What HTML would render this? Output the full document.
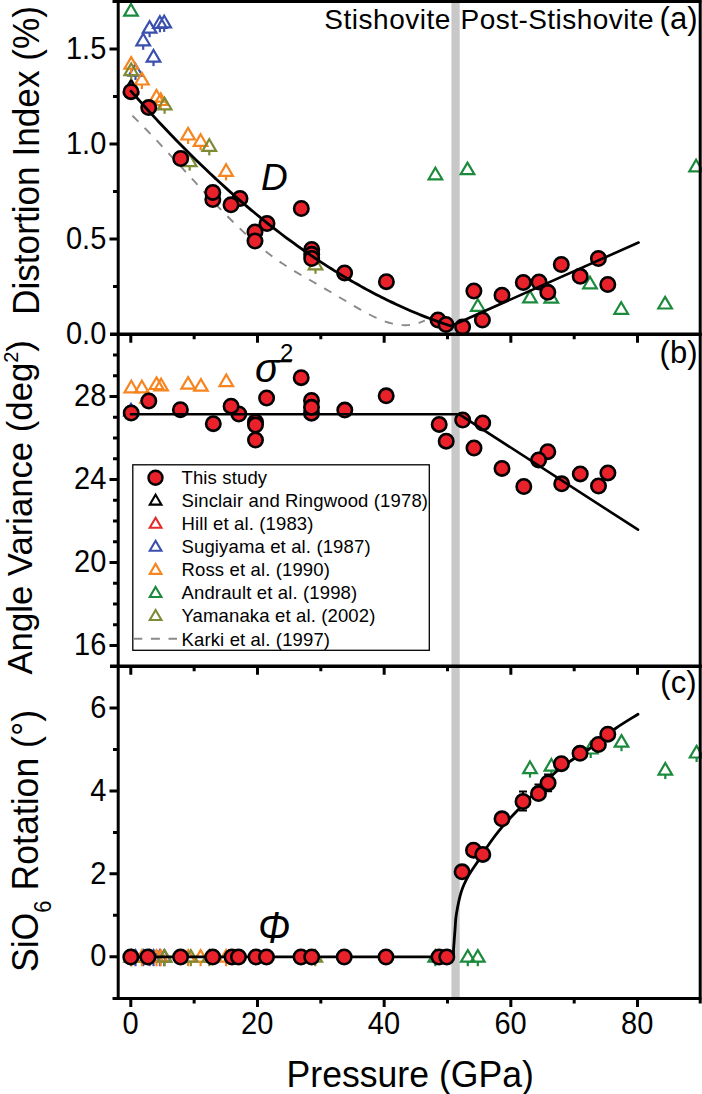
<!DOCTYPE html><html><head><meta charset="utf-8"><style>html,body{margin:0;padding:0;background:#fff;width:702px;height:1094px;overflow:hidden}svg{display:block}text{font-family:"Liberation Sans",sans-serif;fill:#000}</style></head><body>
<svg width="702" height="1094" viewBox="0 0 702 1094">
<rect x="451.4" y="0" width="8.3" height="998" fill="#c8c8c8"/>
<path d="M132.40,115.70 C132.90,116.19 134.40,117.66 135.40,118.64 C136.40,119.63 137.40,120.62 138.40,121.62 C139.40,122.62 140.40,123.63 141.40,124.64 C142.40,125.65 143.40,126.67 144.40,127.69 C145.40,128.71 146.40,129.74 147.40,130.77 C148.40,131.80 149.40,132.84 150.40,133.88 C151.40,134.92 152.40,135.97 153.40,137.02 C154.40,138.07 155.40,139.12 156.40,140.18 C157.40,141.24 158.40,142.30 159.40,143.36 C160.40,144.43 161.40,145.50 162.40,146.57 C163.40,147.64 164.40,148.71 165.40,149.79 C166.40,150.87 167.40,151.95 168.40,153.03 C169.40,154.11 170.40,155.19 171.40,156.28 C172.40,157.36 173.40,158.45 174.40,159.54 C175.40,160.63 176.40,161.72 177.40,162.81 C178.40,163.90 179.40,164.99 180.40,166.08 C181.40,167.17 182.40,168.27 183.40,169.36 C184.40,170.45 185.40,171.54 186.40,172.64 C187.40,173.73 188.40,174.82 189.40,175.91 C190.40,177.00 191.40,178.10 192.40,179.18 C193.40,180.27 194.40,181.36 195.40,182.45 C196.40,183.54 197.40,184.62 198.40,185.71 C199.40,186.79 200.40,187.87 201.40,188.95 C202.40,190.03 203.40,191.11 204.40,192.18 C205.40,193.26 206.40,194.33 207.40,195.40 C208.40,196.47 209.40,197.54 210.40,198.60 C211.40,199.66 212.40,200.72 213.40,201.77 C214.40,202.83 215.40,203.88 216.40,204.93 C217.40,205.97 218.40,207.02 219.40,208.06 C220.40,209.09 221.40,210.13 222.40,211.16 C223.40,212.18 224.40,213.21 225.40,214.22 C226.40,215.24 227.40,216.25 228.40,217.26 C229.40,218.27 230.40,219.27 231.40,220.26 C232.40,221.26 233.40,222.24 234.40,223.23 C235.40,224.21 236.40,225.18 237.40,226.15 C238.40,227.12 239.40,228.08 240.40,229.03 C241.40,229.98 242.40,230.93 243.40,231.87 C244.40,232.80 245.40,233.73 246.40,234.66 C247.40,235.58 248.40,236.49 249.40,237.40 C250.40,238.30 251.40,239.20 252.40,240.08 C253.40,240.97 254.40,241.85 255.40,242.72 C256.40,243.58 257.40,244.44 258.40,245.29 C259.40,246.14 260.40,246.98 261.40,247.81 C262.40,248.64 263.40,249.46 264.40,250.26 C265.40,251.07 266.40,251.87 267.40,252.66 C268.40,253.44 269.40,254.22 270.40,254.98 C271.40,255.74 272.40,256.50 273.40,257.24 C274.40,257.98 275.40,258.71 276.40,259.42 C277.40,260.14 278.40,260.84 279.40,261.53 C280.40,262.23 281.40,262.90 282.40,263.57 C283.40,264.24 284.40,264.89 285.40,265.54 C286.40,266.19 287.40,266.82 288.40,267.45 C289.40,268.08 290.40,268.70 291.40,269.31 C292.40,269.92 293.40,270.52 294.40,271.12 C295.40,271.72 296.40,272.31 297.40,272.89 C298.40,273.48 299.40,274.06 300.40,274.64 C301.40,275.22 302.40,275.79 303.40,276.36 C304.40,276.93 305.40,277.50 306.40,278.07 C307.40,278.63 308.40,279.20 309.40,279.77 C310.40,280.33 311.40,280.90 312.40,281.47 C313.40,282.03 314.40,282.60 315.40,283.17 C316.40,283.75 317.40,284.32 318.40,284.90 C319.40,285.47 320.40,286.05 321.40,286.63 C322.40,287.21 323.40,287.79 324.40,288.38 C325.40,288.96 326.40,289.55 327.40,290.14 C328.40,290.73 329.40,291.31 330.40,291.90 C331.40,292.49 332.40,293.09 333.40,293.68 C334.40,294.27 335.40,294.86 336.40,295.45 C337.40,296.05 338.40,296.64 339.40,297.23 C340.40,297.83 341.40,298.42 342.40,299.01 C343.40,299.61 344.40,300.20 345.40,300.79 C346.40,301.38 347.40,301.98 348.40,302.57 C349.40,303.16 350.40,303.75 351.40,304.33 C352.40,304.92 353.40,305.51 354.40,306.09 C355.40,306.68 356.40,307.26 357.40,307.84 C358.40,308.42 359.40,309.00 360.40,309.57 C361.40,310.14 362.40,310.70 363.40,311.26 C364.40,311.81 365.40,312.36 366.40,312.90 C367.40,313.44 368.40,313.97 369.40,314.49 C370.40,315.01 371.40,315.52 372.40,316.01 C373.40,316.51 374.40,316.99 375.40,317.46 C376.40,317.93 377.40,318.38 378.40,318.81 C379.40,319.25 380.40,319.67 381.40,320.07 C382.40,320.47 383.40,320.85 384.40,321.22 C385.40,321.58 386.40,321.92 387.40,322.24 C388.40,322.56 389.40,322.86 390.40,323.13 C391.40,323.41 392.40,323.66 393.40,323.88 C394.40,324.11 395.40,324.31 396.40,324.48 C397.40,324.65 398.40,324.79 399.40,324.91 C400.40,325.02 401.40,325.11 402.40,325.16 C403.40,325.21 404.40,325.24 405.40,325.23 C406.40,325.22 407.40,325.17 408.40,325.10 C409.40,325.02 410.40,324.91 411.40,324.76 C412.40,324.61 413.40,324.42 414.40,324.20 C415.40,323.97 416.40,323.71 417.40,323.41 C418.40,323.10 419.40,322.76 420.40,322.38 C421.40,321.99 422.67,321.42 423.40,321.09 C424.13,320.77 424.57,320.52 424.80,320.41" fill="none" stroke="#8a8a8a" stroke-width="1.9" stroke-dasharray="8.4 8.9"/>
<path d="M131.00,4.00 L137.80,15.60 L124.20,15.60 Z" fill="none" stroke="#1b8a3c" stroke-width="2.2" stroke-linejoin="miter"/>
<path d="M143.20,33.70 L150.00,45.30 L136.40,45.30 Z" fill="none" stroke="#3a4fae" stroke-width="2.2" stroke-linejoin="miter"/>
<line x1="143.20" y1="45.30" x2="143.20" y2="49.80" stroke="#3a4fae" stroke-width="2.2"/>
<path d="M149.60,21.10 L156.40,32.70 L142.80,32.70 Z" fill="none" stroke="#3a4fae" stroke-width="2.2" stroke-linejoin="miter"/>
<line x1="149.60" y1="32.70" x2="149.60" y2="37.20" stroke="#3a4fae" stroke-width="2.2"/>
<path d="M159.90,16.20 L166.70,27.80 L153.10,27.80 Z" fill="none" stroke="#3a4fae" stroke-width="2.2" stroke-linejoin="miter"/>
<line x1="159.90" y1="27.80" x2="159.90" y2="32.30" stroke="#3a4fae" stroke-width="2.2"/>
<path d="M164.20,15.80 L171.00,27.40 L157.40,27.40 Z" fill="none" stroke="#3a4fae" stroke-width="2.2" stroke-linejoin="miter"/>
<line x1="164.20" y1="27.40" x2="164.20" y2="31.90" stroke="#3a4fae" stroke-width="2.2"/>
<path d="M153.50,50.00 L160.30,61.60 L146.70,61.60 Z" fill="none" stroke="#3a4fae" stroke-width="2.2" stroke-linejoin="miter"/>
<line x1="153.50" y1="61.60" x2="153.50" y2="66.10" stroke="#3a4fae" stroke-width="2.2"/>
<path d="M135.50,64.00 L142.30,75.60 L128.70,75.60 Z" fill="none" stroke="#3a4fae" stroke-width="2.2" stroke-linejoin="miter"/>
<line x1="135.50" y1="75.60" x2="135.50" y2="80.10" stroke="#3a4fae" stroke-width="2.2"/>
<path d="M131.20,82.00 L138.00,93.60 L124.40,93.60 Z" fill="none" stroke="#e52a2a" stroke-width="2.2" stroke-linejoin="miter"/>
<line x1="131.20" y1="93.60" x2="131.20" y2="98.10" stroke="#e52a2a" stroke-width="2.2"/>
<path d="M131.20,81.00 L138.00,92.60 L124.40,92.60 Z" fill="none" stroke="#3a4fae" stroke-width="2.2" stroke-linejoin="miter"/>
<line x1="131.20" y1="92.60" x2="131.20" y2="97.10" stroke="#3a4fae" stroke-width="2.2"/>
<path d="M131.20,79.70 L138.00,91.30 L124.40,91.30 Z" fill="none" stroke="#000" stroke-width="2.2" stroke-linejoin="miter"/>
<line x1="131.20" y1="91.30" x2="131.20" y2="95.80" stroke="#000" stroke-width="2.2"/>
<path d="M131.20,57.10 L138.00,68.70 L124.40,68.70 Z" fill="none" stroke="#f7851f" stroke-width="2.2" stroke-linejoin="miter"/>
<line x1="131.20" y1="68.70" x2="131.20" y2="73.20" stroke="#f7851f" stroke-width="2.2"/>
<path d="M141.90,72.90 L148.70,84.50 L135.10,84.50 Z" fill="none" stroke="#f7851f" stroke-width="2.2" stroke-linejoin="miter"/>
<line x1="141.90" y1="84.50" x2="141.90" y2="89.00" stroke="#f7851f" stroke-width="2.2"/>
<path d="M156.50,90.00 L163.30,101.60 L149.70,101.60 Z" fill="none" stroke="#f7851f" stroke-width="2.2" stroke-linejoin="miter"/>
<line x1="156.50" y1="101.60" x2="156.50" y2="106.10" stroke="#f7851f" stroke-width="2.2"/>
<path d="M160.70,93.40 L167.50,105.00 L153.90,105.00 Z" fill="none" stroke="#f7851f" stroke-width="2.2" stroke-linejoin="miter"/>
<line x1="160.70" y1="105.00" x2="160.70" y2="109.50" stroke="#f7851f" stroke-width="2.2"/>
<path d="M188.10,127.90 L194.90,139.50 L181.30,139.50 Z" fill="none" stroke="#f7851f" stroke-width="2.2" stroke-linejoin="miter"/>
<line x1="188.10" y1="139.50" x2="188.10" y2="144.00" stroke="#f7851f" stroke-width="2.2"/>
<path d="M200.60,134.30 L207.40,145.90 L193.80,145.90 Z" fill="none" stroke="#f7851f" stroke-width="2.2" stroke-linejoin="miter"/>
<line x1="200.60" y1="145.90" x2="200.60" y2="150.40" stroke="#f7851f" stroke-width="2.2"/>
<path d="M226.10,164.30 L232.90,175.90 L219.30,175.90 Z" fill="none" stroke="#f7851f" stroke-width="2.2" stroke-linejoin="miter"/>
<line x1="226.10" y1="175.90" x2="226.10" y2="180.40" stroke="#f7851f" stroke-width="2.2"/>
<path d="M131.20,63.50 L138.00,75.10 L124.40,75.10 Z" fill="none" stroke="#7f8a35" stroke-width="2.2" stroke-linejoin="miter"/>
<line x1="131.20" y1="75.10" x2="131.20" y2="79.60" stroke="#7f8a35" stroke-width="2.2"/>
<path d="M164.60,97.70 L171.40,109.30 L157.80,109.30 Z" fill="none" stroke="#7f8a35" stroke-width="2.2" stroke-linejoin="miter"/>
<line x1="164.60" y1="109.30" x2="164.60" y2="113.80" stroke="#7f8a35" stroke-width="2.2"/>
<path d="M209.30,139.30 L216.10,150.90 L202.50,150.90 Z" fill="none" stroke="#7f8a35" stroke-width="2.2" stroke-linejoin="miter"/>
<line x1="209.30" y1="150.90" x2="209.30" y2="155.40" stroke="#7f8a35" stroke-width="2.2"/>
<path d="M189.70,154.50 L196.50,166.10 L182.90,166.10 Z" fill="none" stroke="#7f8a35" stroke-width="2.2" stroke-linejoin="miter"/>
<line x1="189.70" y1="166.10" x2="189.70" y2="170.60" stroke="#7f8a35" stroke-width="2.2"/>
<path d="M315.50,257.70 L322.30,269.30 L308.70,269.30 Z" fill="none" stroke="#7f8a35" stroke-width="2.2" stroke-linejoin="miter"/>
<line x1="315.50" y1="269.30" x2="315.50" y2="273.80" stroke="#7f8a35" stroke-width="2.2"/>
<path d="M435.40,167.70 L442.20,179.30 L428.60,179.30 Z" fill="none" stroke="#1b8a3c" stroke-width="2.2" stroke-linejoin="miter"/>
<path d="M467.50,162.60 L474.30,174.20 L460.70,174.20 Z" fill="none" stroke="#1b8a3c" stroke-width="2.2" stroke-linejoin="miter"/>
<path d="M477.80,299.20 L484.60,310.80 L471.00,310.80 Z" fill="none" stroke="#1b8a3c" stroke-width="2.2" stroke-linejoin="miter"/>
<path d="M530.00,290.80 L536.80,302.40 L523.20,302.40 Z" fill="none" stroke="#1b8a3c" stroke-width="2.2" stroke-linejoin="miter"/>
<path d="M551.30,291.00 L558.10,302.60 L544.50,302.60 Z" fill="none" stroke="#1b8a3c" stroke-width="2.2" stroke-linejoin="miter"/>
<path d="M590.00,276.80 L596.80,288.40 L583.20,288.40 Z" fill="none" stroke="#1b8a3c" stroke-width="2.2" stroke-linejoin="miter"/>
<path d="M621.20,302.20 L628.00,313.80 L614.40,313.80 Z" fill="none" stroke="#1b8a3c" stroke-width="2.2" stroke-linejoin="miter"/>
<path d="M665.10,296.90 L671.90,308.50 L658.30,308.50 Z" fill="none" stroke="#1b8a3c" stroke-width="2.2" stroke-linejoin="miter"/>
<path d="M696.10,159.80 L702.90,171.40 L689.30,171.40 Z" fill="none" stroke="#1b8a3c" stroke-width="2.2" stroke-linejoin="miter"/>
<circle cx="131.0" cy="91.7" r="7.2" fill="#e8212a" stroke="#000" stroke-width="2.6"/>
<circle cx="148.7" cy="107.6" r="7.2" fill="#e8212a" stroke="#000" stroke-width="2.6"/>
<circle cx="180.7" cy="158.5" r="7.2" fill="#e8212a" stroke="#000" stroke-width="2.6"/>
<circle cx="212.8" cy="199.5" r="7.2" fill="#e8212a" stroke="#000" stroke-width="2.6"/>
<circle cx="212.8" cy="192.4" r="7.2" fill="#e8212a" stroke="#000" stroke-width="2.6"/>
<circle cx="240.0" cy="198.5" r="7.2" fill="#e8212a" stroke="#000" stroke-width="2.6"/>
<circle cx="231.0" cy="204.8" r="7.2" fill="#e8212a" stroke="#000" stroke-width="2.6"/>
<circle cx="267.0" cy="223.5" r="7.2" fill="#e8212a" stroke="#000" stroke-width="2.6"/>
<circle cx="255.0" cy="232.0" r="7.2" fill="#e8212a" stroke="#000" stroke-width="2.6"/>
<circle cx="255.0" cy="241.0" r="7.2" fill="#e8212a" stroke="#000" stroke-width="2.6"/>
<circle cx="301.3" cy="208.5" r="7.2" fill="#e8212a" stroke="#000" stroke-width="2.6"/>
<circle cx="311.7" cy="249.5" r="7.2" fill="#e8212a" stroke="#000" stroke-width="2.6"/>
<circle cx="311.7" cy="254.3" r="7.2" fill="#e8212a" stroke="#000" stroke-width="2.6"/>
<circle cx="311.7" cy="258.5" r="7.2" fill="#e8212a" stroke="#000" stroke-width="2.6"/>
<circle cx="344.6" cy="272.9" r="7.2" fill="#e8212a" stroke="#000" stroke-width="2.6"/>
<circle cx="386.4" cy="281.7" r="7.2" fill="#e8212a" stroke="#000" stroke-width="2.6"/>
<circle cx="438.0" cy="320.0" r="7.2" fill="#e8212a" stroke="#000" stroke-width="2.6"/>
<circle cx="446.0" cy="324.5" r="7.2" fill="#e8212a" stroke="#000" stroke-width="2.6"/>
<circle cx="462.6" cy="327.0" r="7.2" fill="#e8212a" stroke="#000" stroke-width="2.6"/>
<circle cx="473.9" cy="291.0" r="7.2" fill="#e8212a" stroke="#000" stroke-width="2.6"/>
<circle cx="482.4" cy="320.0" r="7.2" fill="#e8212a" stroke="#000" stroke-width="2.6"/>
<circle cx="502.0" cy="295.2" r="7.2" fill="#e8212a" stroke="#000" stroke-width="2.6"/>
<circle cx="523.3" cy="282.5" r="7.2" fill="#e8212a" stroke="#000" stroke-width="2.6"/>
<circle cx="539.0" cy="282.0" r="7.2" fill="#e8212a" stroke="#000" stroke-width="2.6"/>
<circle cx="547.8" cy="292.3" r="7.2" fill="#e8212a" stroke="#000" stroke-width="2.6"/>
<circle cx="561.3" cy="264.5" r="7.2" fill="#e8212a" stroke="#000" stroke-width="2.6"/>
<circle cx="580.2" cy="276.3" r="7.2" fill="#e8212a" stroke="#000" stroke-width="2.6"/>
<circle cx="598.4" cy="258.5" r="7.2" fill="#e8212a" stroke="#000" stroke-width="2.6"/>
<circle cx="607.8" cy="284.5" r="7.2" fill="#e8212a" stroke="#000" stroke-width="2.6"/>
<path d="M131.00,91.12 C131.83,92.07 134.33,94.92 136.00,96.80 C137.67,98.68 139.33,100.55 141.00,102.41 C142.67,104.28 144.33,106.13 146.00,107.97 C147.67,109.81 149.33,111.64 151.00,113.45 C152.67,115.27 154.33,117.08 156.00,118.88 C157.67,120.68 159.33,122.46 161.00,124.24 C162.67,126.01 164.33,127.78 166.00,129.53 C167.67,131.29 169.33,133.03 171.00,134.77 C172.67,136.50 174.33,138.22 176.00,139.94 C177.67,141.65 179.33,143.35 181.00,145.04 C182.67,146.73 184.33,148.41 186.00,150.08 C187.67,151.75 189.33,153.41 191.00,155.06 C192.67,156.71 194.33,158.35 196.00,159.97 C197.67,161.60 199.33,163.22 201.00,164.82 C202.67,166.43 204.33,168.03 206.00,169.61 C207.67,171.20 209.33,172.77 211.00,174.33 C212.67,175.90 214.33,177.45 216.00,178.99 C217.67,180.53 219.33,182.07 221.00,183.59 C222.67,185.11 224.33,186.62 226.00,188.12 C227.67,189.62 229.33,191.11 231.00,192.59 C232.67,194.06 234.33,195.53 236.00,196.99 C237.67,198.45 239.33,199.89 241.00,201.33 C242.67,202.77 244.33,204.19 246.00,205.61 C247.67,207.02 249.33,208.42 251.00,209.82 C252.67,211.21 254.33,212.59 256.00,213.97 C257.67,215.34 259.33,216.70 261.00,218.05 C262.67,219.40 264.33,220.74 266.00,222.07 C267.67,223.40 269.33,224.72 271.00,226.03 C272.67,227.34 274.33,228.64 276.00,229.92 C277.67,231.21 279.33,232.49 281.00,233.75 C282.67,235.02 284.33,236.28 286.00,237.52 C287.67,238.76 289.33,240.00 291.00,241.22 C292.67,242.45 294.33,243.66 296.00,244.86 C297.67,246.06 299.33,247.25 301.00,248.44 C302.67,249.62 304.33,250.79 306.00,251.95 C307.67,253.11 309.33,254.26 311.00,255.39 C312.67,256.53 314.33,257.66 316.00,258.78 C317.67,259.90 319.33,261.00 321.00,262.10 C322.67,263.19 324.33,264.28 326.00,265.35 C327.67,266.43 329.33,267.49 331.00,268.55 C332.67,269.60 334.33,270.64 336.00,271.67 C337.67,272.71 339.33,273.73 341.00,274.74 C342.67,275.75 344.33,276.75 346.00,277.74 C347.67,278.73 349.33,279.71 351.00,280.68 C352.67,281.65 354.33,282.60 356.00,283.55 C357.67,284.50 359.33,285.44 361.00,286.36 C362.67,287.29 364.33,288.20 366.00,289.11 C367.67,290.01 369.33,290.91 371.00,291.79 C372.67,292.67 374.33,293.55 376.00,294.41 C377.67,295.27 379.33,296.12 381.00,296.96 C382.67,297.80 384.33,298.63 386.00,299.45 C387.67,300.27 389.33,301.08 391.00,301.88 C392.67,302.68 394.33,303.47 396.00,304.24 C397.67,305.02 399.33,305.79 401.00,306.54 C402.67,307.30 404.33,308.04 406.00,308.78 C407.67,309.51 409.33,310.24 411.00,310.95 C412.67,311.66 414.33,312.37 416.00,313.06 C417.67,313.75 419.33,314.43 421.00,315.10 C422.67,315.78 424.33,316.44 426.00,317.09 C427.67,317.73 429.33,318.37 431.00,319.00 C432.67,319.63 434.33,320.25 436.00,320.86 C437.67,321.46 439.33,322.06 441.00,322.65 C442.67,323.23 444.33,323.81 446.00,324.37 C447.67,324.94 450.17,325.76 451.00,326.03" fill="none" stroke="#000" stroke-width="2.8" stroke-linecap="round" stroke-linejoin="round"/>
<path d="M451.00,326.03 L638.6,242.5" fill="none" stroke="#000" stroke-width="2.6" stroke-linecap="round"/>
<path d="M131.30,380.80 L138.10,392.40 L124.50,392.40 Z" fill="none" stroke="#f7851f" stroke-width="2.2" stroke-linejoin="miter"/>
<path d="M141.90,380.80 L148.70,392.40 L135.10,392.40 Z" fill="none" stroke="#f7851f" stroke-width="2.2" stroke-linejoin="miter"/>
<path d="M156.50,377.40 L163.30,389.00 L149.70,389.00 Z" fill="none" stroke="#f7851f" stroke-width="2.2" stroke-linejoin="miter"/>
<path d="M161.10,378.80 L167.90,390.40 L154.30,390.40 Z" fill="none" stroke="#f7851f" stroke-width="2.2" stroke-linejoin="miter"/>
<path d="M188.10,377.10 L194.90,388.70 L181.30,388.70 Z" fill="none" stroke="#f7851f" stroke-width="2.2" stroke-linejoin="miter"/>
<path d="M200.90,379.10 L207.70,390.70 L194.10,390.70 Z" fill="none" stroke="#f7851f" stroke-width="2.2" stroke-linejoin="miter"/>
<path d="M226.30,374.50 L233.10,386.10 L219.50,386.10 Z" fill="none" stroke="#f7851f" stroke-width="2.2" stroke-linejoin="miter"/>
<path d="M147.00,391.00 L153.80,402.60 L140.20,402.60 Z" fill="none" stroke="#f7851f" stroke-width="2.2" stroke-linejoin="miter"/>
<path d="M131.00,403.90 L137.80,415.50 L124.20,415.50 Z" fill="none" stroke="#3a4fae" stroke-width="2.2" stroke-linejoin="miter"/>
<circle cx="131.2" cy="413.0" r="7.2" fill="#e8212a" stroke="#000" stroke-width="2.6"/>
<circle cx="148.8" cy="401.0" r="7.2" fill="#e8212a" stroke="#000" stroke-width="2.6"/>
<circle cx="180.4" cy="409.7" r="7.2" fill="#e8212a" stroke="#000" stroke-width="2.6"/>
<circle cx="213.3" cy="423.7" r="7.2" fill="#e8212a" stroke="#000" stroke-width="2.6"/>
<circle cx="238.8" cy="414.0" r="7.2" fill="#e8212a" stroke="#000" stroke-width="2.6"/>
<circle cx="231.1" cy="406.2" r="7.2" fill="#e8212a" stroke="#000" stroke-width="2.6"/>
<circle cx="255.5" cy="422.0" r="7.2" fill="#e8212a" stroke="#000" stroke-width="2.6"/>
<circle cx="255.5" cy="440.0" r="7.2" fill="#e8212a" stroke="#000" stroke-width="2.6"/>
<circle cx="255.5" cy="425.0" r="7.2" fill="#e8212a" stroke="#000" stroke-width="2.6"/>
<circle cx="266.6" cy="398.0" r="7.2" fill="#e8212a" stroke="#000" stroke-width="2.6"/>
<circle cx="301.2" cy="377.7" r="7.2" fill="#e8212a" stroke="#000" stroke-width="2.6"/>
<circle cx="311.5" cy="400.4" r="7.2" fill="#e8212a" stroke="#000" stroke-width="2.6"/>
<circle cx="311.5" cy="413.2" r="7.2" fill="#e8212a" stroke="#000" stroke-width="2.6"/>
<circle cx="311.5" cy="407.3" r="7.2" fill="#e8212a" stroke="#000" stroke-width="2.6"/>
<circle cx="344.8" cy="410.1" r="7.2" fill="#e8212a" stroke="#000" stroke-width="2.6"/>
<circle cx="386.2" cy="395.8" r="7.2" fill="#e8212a" stroke="#000" stroke-width="2.6"/>
<circle cx="439.2" cy="424.4" r="7.2" fill="#e8212a" stroke="#000" stroke-width="2.6"/>
<circle cx="446.2" cy="441.2" r="7.2" fill="#e8212a" stroke="#000" stroke-width="2.6"/>
<circle cx="462.7" cy="420.0" r="7.2" fill="#e8212a" stroke="#000" stroke-width="2.6"/>
<circle cx="474.0" cy="448.0" r="7.2" fill="#e8212a" stroke="#000" stroke-width="2.6"/>
<circle cx="482.7" cy="422.9" r="7.2" fill="#e8212a" stroke="#000" stroke-width="2.6"/>
<circle cx="502.0" cy="468.4" r="7.2" fill="#e8212a" stroke="#000" stroke-width="2.6"/>
<circle cx="523.8" cy="486.5" r="7.2" fill="#e8212a" stroke="#000" stroke-width="2.6"/>
<circle cx="547.8" cy="451.7" r="7.2" fill="#e8212a" stroke="#000" stroke-width="2.6"/>
<circle cx="538.6" cy="460.0" r="7.2" fill="#e8212a" stroke="#000" stroke-width="2.6"/>
<circle cx="561.7" cy="483.8" r="7.2" fill="#e8212a" stroke="#000" stroke-width="2.6"/>
<circle cx="580.3" cy="473.9" r="7.2" fill="#e8212a" stroke="#000" stroke-width="2.6"/>
<circle cx="607.9" cy="472.9" r="7.2" fill="#e8212a" stroke="#000" stroke-width="2.6"/>
<circle cx="598.5" cy="486.0" r="7.2" fill="#e8212a" stroke="#000" stroke-width="2.6"/>
<path d="M131,414.2 L459,414.2 L638,529.7" fill="none" stroke="#000" stroke-width="2.6" stroke-linecap="round" stroke-linejoin="round"/>
<rect x="132.8" y="464.8" width="296.5" height="185.5" fill="#fff" stroke="#000" stroke-width="1.3"/>
<circle cx="155.5" cy="477.7" r="7.0" fill="#e8212a" stroke="#000" stroke-width="2.4"/>
<text x="181.5" y="484.0" font-size="18.5" text-anchor="start" letter-spacing="0.14">This study</text>
<path d="M155.60,494.67 L161.45,504.65 L149.75,504.65 Z" fill="none" stroke="#000" stroke-width="2.1" stroke-linejoin="miter"/>
<text x="181.5" y="507.1" font-size="18.5" text-anchor="start" letter-spacing="0.14">Sinclair and Ringwood (1978)</text>
<path d="M155.60,517.74 L161.45,527.72 L149.75,527.72 Z" fill="none" stroke="#e52a2a" stroke-width="2.1" stroke-linejoin="miter"/>
<text x="181.5" y="530.1" font-size="18.5" text-anchor="start" letter-spacing="0.14">Hill et al. (1983)</text>
<path d="M155.60,540.81 L161.45,550.79 L149.75,550.79 Z" fill="none" stroke="#3a4fae" stroke-width="2.1" stroke-linejoin="miter"/>
<text x="181.5" y="553.2" font-size="18.5" text-anchor="start" letter-spacing="0.14">Sugiyama et al. (1987)</text>
<path d="M155.60,563.88 L161.45,573.86 L149.75,573.86 Z" fill="none" stroke="#f7851f" stroke-width="2.1" stroke-linejoin="miter"/>
<text x="181.5" y="576.3" font-size="18.5" text-anchor="start" letter-spacing="0.14">Ross et al. (1990)</text>
<path d="M155.60,586.95 L161.45,596.93 L149.75,596.93 Z" fill="none" stroke="#1b8a3c" stroke-width="2.1" stroke-linejoin="miter"/>
<text x="181.5" y="599.3" font-size="18.5" text-anchor="start" letter-spacing="0.14">Andrault et al. (1998)</text>
<path d="M155.60,610.02 L161.45,620.00 L149.75,620.00 Z" fill="none" stroke="#7f8a35" stroke-width="2.1" stroke-linejoin="miter"/>
<text x="181.5" y="622.4" font-size="18.5" text-anchor="start" letter-spacing="0.14">Yamanaka et al. (2002)</text>
<line x1="133.3" y1="638.7" x2="177" y2="638.7" stroke="#8a8a8a" stroke-width="2" stroke-dasharray="9 8.6"/>
<text x="181.5" y="645.5" font-size="18.5" text-anchor="start" letter-spacing="0.14">Karki et al. (1997)</text>
<path d="M135.50,950.10 L142.30,961.70 L128.70,961.70 Z" fill="none" stroke="#3a4fae" stroke-width="2.2" stroke-linejoin="miter"/>
<line x1="135.50" y1="961.70" x2="135.50" y2="966.20" stroke="#3a4fae" stroke-width="2.2"/>
<path d="M143.20,950.10 L150.00,961.70 L136.40,961.70 Z" fill="none" stroke="#3a4fae" stroke-width="2.2" stroke-linejoin="miter"/>
<line x1="143.20" y1="961.70" x2="143.20" y2="966.20" stroke="#3a4fae" stroke-width="2.2"/>
<path d="M149.60,950.10 L156.40,961.70 L142.80,961.70 Z" fill="none" stroke="#3a4fae" stroke-width="2.2" stroke-linejoin="miter"/>
<line x1="149.60" y1="961.70" x2="149.60" y2="966.20" stroke="#3a4fae" stroke-width="2.2"/>
<path d="M153.50,950.10 L160.30,961.70 L146.70,961.70 Z" fill="none" stroke="#3a4fae" stroke-width="2.2" stroke-linejoin="miter"/>
<line x1="153.50" y1="961.70" x2="153.50" y2="966.20" stroke="#3a4fae" stroke-width="2.2"/>
<path d="M159.90,950.10 L166.70,961.70 L153.10,961.70 Z" fill="none" stroke="#3a4fae" stroke-width="2.2" stroke-linejoin="miter"/>
<line x1="159.90" y1="961.70" x2="159.90" y2="966.20" stroke="#3a4fae" stroke-width="2.2"/>
<path d="M164.20,950.10 L171.00,961.70 L157.40,961.70 Z" fill="none" stroke="#3a4fae" stroke-width="2.2" stroke-linejoin="miter"/>
<line x1="164.20" y1="961.70" x2="164.20" y2="966.20" stroke="#3a4fae" stroke-width="2.2"/>
<path d="M131.20,950.10 L138.00,961.70 L124.40,961.70 Z" fill="none" stroke="#f7851f" stroke-width="2.2" stroke-linejoin="miter"/>
<line x1="131.20" y1="961.70" x2="131.20" y2="966.20" stroke="#f7851f" stroke-width="2.2"/>
<path d="M141.90,950.10 L148.70,961.70 L135.10,961.70 Z" fill="none" stroke="#f7851f" stroke-width="2.2" stroke-linejoin="miter"/>
<line x1="141.90" y1="961.70" x2="141.90" y2="966.20" stroke="#f7851f" stroke-width="2.2"/>
<path d="M156.50,950.10 L163.30,961.70 L149.70,961.70 Z" fill="none" stroke="#f7851f" stroke-width="2.2" stroke-linejoin="miter"/>
<line x1="156.50" y1="961.70" x2="156.50" y2="966.20" stroke="#f7851f" stroke-width="2.2"/>
<path d="M160.70,950.10 L167.50,961.70 L153.90,961.70 Z" fill="none" stroke="#f7851f" stroke-width="2.2" stroke-linejoin="miter"/>
<line x1="160.70" y1="961.70" x2="160.70" y2="966.20" stroke="#f7851f" stroke-width="2.2"/>
<path d="M188.10,950.10 L194.90,961.70 L181.30,961.70 Z" fill="none" stroke="#f7851f" stroke-width="2.2" stroke-linejoin="miter"/>
<line x1="188.10" y1="961.70" x2="188.10" y2="966.20" stroke="#f7851f" stroke-width="2.2"/>
<path d="M200.60,950.10 L207.40,961.70 L193.80,961.70 Z" fill="none" stroke="#f7851f" stroke-width="2.2" stroke-linejoin="miter"/>
<line x1="200.60" y1="961.70" x2="200.60" y2="966.20" stroke="#f7851f" stroke-width="2.2"/>
<path d="M226.10,950.10 L232.90,961.70 L219.30,961.70 Z" fill="none" stroke="#f7851f" stroke-width="2.2" stroke-linejoin="miter"/>
<line x1="226.10" y1="961.70" x2="226.10" y2="966.20" stroke="#f7851f" stroke-width="2.2"/>
<path d="M131.20,950.10 L138.00,961.70 L124.40,961.70 Z" fill="none" stroke="#7f8a35" stroke-width="2.2" stroke-linejoin="miter"/>
<line x1="131.20" y1="961.70" x2="131.20" y2="966.20" stroke="#7f8a35" stroke-width="2.2"/>
<path d="M164.60,950.10 L171.40,961.70 L157.80,961.70 Z" fill="none" stroke="#7f8a35" stroke-width="2.2" stroke-linejoin="miter"/>
<line x1="164.60" y1="961.70" x2="164.60" y2="966.20" stroke="#7f8a35" stroke-width="2.2"/>
<path d="M190.80,950.10 L197.60,961.70 L184.00,961.70 Z" fill="none" stroke="#7f8a35" stroke-width="2.2" stroke-linejoin="miter"/>
<line x1="190.80" y1="961.70" x2="190.80" y2="966.20" stroke="#7f8a35" stroke-width="2.2"/>
<path d="M209.30,950.10 L216.10,961.70 L202.50,961.70 Z" fill="none" stroke="#7f8a35" stroke-width="2.2" stroke-linejoin="miter"/>
<line x1="209.30" y1="961.70" x2="209.30" y2="966.20" stroke="#7f8a35" stroke-width="2.2"/>
<path d="M315.30,950.10 L322.10,961.70 L308.50,961.70 Z" fill="none" stroke="#7f8a35" stroke-width="2.2" stroke-linejoin="miter"/>
<line x1="315.30" y1="961.70" x2="315.30" y2="966.20" stroke="#7f8a35" stroke-width="2.2"/>
<path d="M435.30,950.10 L442.10,961.70 L428.50,961.70 Z" fill="none" stroke="#1b8a3c" stroke-width="2.2" stroke-linejoin="miter"/>
<line x1="435.30" y1="961.70" x2="435.30" y2="966.20" stroke="#1b8a3c" stroke-width="2.2"/>
<path d="M467.80,950.10 L474.60,961.70 L461.00,961.70 Z" fill="none" stroke="#1b8a3c" stroke-width="2.2" stroke-linejoin="miter"/>
<line x1="467.80" y1="961.70" x2="467.80" y2="966.20" stroke="#1b8a3c" stroke-width="2.2"/>
<path d="M477.80,950.10 L484.60,961.70 L471.00,961.70 Z" fill="none" stroke="#1b8a3c" stroke-width="2.2" stroke-linejoin="miter"/>
<line x1="477.80" y1="961.70" x2="477.80" y2="966.20" stroke="#1b8a3c" stroke-width="2.2"/>
<path d="M530.00,761.50 L536.80,773.10 L523.20,773.10 Z" fill="none" stroke="#1b8a3c" stroke-width="2.2" stroke-linejoin="miter"/>
<line x1="530.00" y1="773.10" x2="530.00" y2="777.60" stroke="#1b8a3c" stroke-width="2.2"/>
<path d="M551.40,759.00 L558.20,770.60 L544.60,770.60 Z" fill="none" stroke="#1b8a3c" stroke-width="2.2" stroke-linejoin="miter"/>
<line x1="551.40" y1="770.60" x2="551.40" y2="775.10" stroke="#1b8a3c" stroke-width="2.2"/>
<path d="M590.70,741.90 L597.50,753.50 L583.90,753.50 Z" fill="none" stroke="#1b8a3c" stroke-width="2.2" stroke-linejoin="miter"/>
<line x1="590.70" y1="753.50" x2="590.70" y2="758.00" stroke="#1b8a3c" stroke-width="2.2"/>
<path d="M621.50,735.10 L628.30,746.70 L614.70,746.70 Z" fill="none" stroke="#1b8a3c" stroke-width="2.2" stroke-linejoin="miter"/>
<line x1="621.50" y1="746.70" x2="621.50" y2="751.20" stroke="#1b8a3c" stroke-width="2.2"/>
<path d="M665.30,763.00 L672.10,774.60 L658.50,774.60 Z" fill="none" stroke="#1b8a3c" stroke-width="2.2" stroke-linejoin="miter"/>
<line x1="665.30" y1="774.60" x2="665.30" y2="779.10" stroke="#1b8a3c" stroke-width="2.2"/>
<path d="M696.60,745.90 L703.40,757.50 L689.80,757.50 Z" fill="none" stroke="#1b8a3c" stroke-width="2.2" stroke-linejoin="miter"/>
<line x1="696.60" y1="757.50" x2="696.60" y2="762.00" stroke="#1b8a3c" stroke-width="2.2"/>
<path d="M523.0,791.4 V810.6 M519.0,791.4 H527.0 M519.0,810.6 H527.0" stroke="#000" stroke-width="2" fill="none"/>
<path d="M538.5,784.4 V799.0 M534.5,784.4 H542.5 M534.5,799.0 H542.5" stroke="#000" stroke-width="2" fill="none"/>
<path d="M548.1,774.4 V791.3 M544.1,774.4 H552.1 M544.1,791.3 H552.1" stroke="#000" stroke-width="2" fill="none"/>
<path d="M131,956.8 L453.5,956.8 L453.50,950.00 C453.75,946.67 454.52,936.00 455.00,930.00 C455.48,924.00 455.33,920.43 456.40,914.00 C457.47,907.57 459.38,897.78 461.40,891.40 C463.42,885.02 465.77,880.70 468.50,875.70 C471.23,870.70 474.57,866.40 477.80,861.40 C481.03,856.40 483.97,851.28 487.90,845.70 C491.83,840.12 496.28,833.97 501.40,827.90 C506.52,821.83 509.85,818.32 518.60,809.30 C527.35,800.28 545.45,781.72 553.90,773.80 C562.35,765.88 563.32,766.02 569.30,761.80 C575.28,757.58 582.10,754.05 589.80,748.50 C597.50,742.95 607.47,734.20 615.50,728.50 C623.53,722.80 634.25,716.67 638.00,714.30" fill="none" stroke="#000" stroke-width="2.8" stroke-linecap="round" stroke-linejoin="round"/>
<circle cx="130.8" cy="957.0" r="7.2" fill="#e8212a" stroke="#000" stroke-width="2.6"/>
<circle cx="147.9" cy="957.0" r="7.2" fill="#e8212a" stroke="#000" stroke-width="2.6"/>
<circle cx="180.6" cy="957.0" r="7.2" fill="#e8212a" stroke="#000" stroke-width="2.6"/>
<circle cx="212.7" cy="957.0" r="7.2" fill="#e8212a" stroke="#000" stroke-width="2.6"/>
<circle cx="232.0" cy="957.0" r="7.2" fill="#e8212a" stroke="#000" stroke-width="2.6"/>
<circle cx="238.5" cy="957.0" r="7.2" fill="#e8212a" stroke="#000" stroke-width="2.6"/>
<circle cx="256.0" cy="957.0" r="7.2" fill="#e8212a" stroke="#000" stroke-width="2.6"/>
<circle cx="266.5" cy="957.0" r="7.2" fill="#e8212a" stroke="#000" stroke-width="2.6"/>
<circle cx="301.0" cy="957.0" r="7.2" fill="#e8212a" stroke="#000" stroke-width="2.6"/>
<circle cx="311.7" cy="957.0" r="7.2" fill="#e8212a" stroke="#000" stroke-width="2.6"/>
<circle cx="344.2" cy="957.0" r="7.2" fill="#e8212a" stroke="#000" stroke-width="2.6"/>
<circle cx="386.0" cy="957.0" r="7.2" fill="#e8212a" stroke="#000" stroke-width="2.6"/>
<circle cx="439.0" cy="957.0" r="7.2" fill="#e8212a" stroke="#000" stroke-width="2.6"/>
<circle cx="446.8" cy="957.0" r="7.2" fill="#e8212a" stroke="#000" stroke-width="2.6"/>
<circle cx="462.1" cy="871.8" r="7.2" fill="#e8212a" stroke="#000" stroke-width="2.6"/>
<circle cx="473.5" cy="850.2" r="7.2" fill="#e8212a" stroke="#000" stroke-width="2.6"/>
<circle cx="482.8" cy="854.4" r="7.2" fill="#e8212a" stroke="#000" stroke-width="2.6"/>
<circle cx="502.0" cy="818.8" r="7.2" fill="#e8212a" stroke="#000" stroke-width="2.6"/>
<circle cx="523.0" cy="801.5" r="7.2" fill="#e8212a" stroke="#000" stroke-width="2.6"/>
<circle cx="538.5" cy="793.6" r="7.2" fill="#e8212a" stroke="#000" stroke-width="2.6"/>
<circle cx="548.1" cy="782.9" r="7.2" fill="#e8212a" stroke="#000" stroke-width="2.6"/>
<circle cx="561.4" cy="763.7" r="7.2" fill="#e8212a" stroke="#000" stroke-width="2.6"/>
<circle cx="580.0" cy="753.3" r="7.2" fill="#e8212a" stroke="#000" stroke-width="2.6"/>
<circle cx="598.4" cy="744.5" r="7.2" fill="#e8212a" stroke="#000" stroke-width="2.6"/>
<circle cx="607.8" cy="734.2" r="7.2" fill="#e8212a" stroke="#000" stroke-width="2.6"/>
<path d="M112.5,1.6 H701.8 M118.2,0 V998.5 M700.2,0 V1003.5 M112.5,998.5 H701.8" stroke="#000" stroke-width="3.0" fill="none"/>
<path d="M110,334.2 H701.8 M110,666.2 H701.8" stroke="#000" stroke-width="3.4" fill="none"/>
<path d="M130.80,334.20 V342.70 M194.14,334.20 V339.20 M257.48,334.20 V342.70 M320.82,334.20 V339.20 M384.16,334.20 V342.70 M447.50,334.20 V339.20 M510.84,334.20 V342.70 M574.18,334.20 V339.20 M637.52,334.20 V342.70 M130.80,666.20 V674.70 M194.14,666.20 V671.20 M257.48,666.20 V674.70 M320.82,666.20 V671.20 M384.16,666.20 V674.70 M447.50,666.20 V671.20 M510.84,666.20 V674.70 M574.18,666.20 V671.20 M637.52,666.20 V674.70 M130.80,998.50 V1007.00 M194.14,998.50 V1003.50 M257.48,998.50 V1007.00 M320.82,998.50 V1003.50 M384.16,998.50 V1007.00 M447.50,998.50 V1003.50 M510.84,998.50 V1007.00 M574.18,998.50 V1003.50 M637.52,998.50 V1007.00 M113.00,286.50 H118 M109.50,239.00 H118 M113.00,191.50 H118 M109.50,144.00 H118 M113.00,96.50 H118 M109.50,49.00 H118 M109.50,645.50 H118 M113.00,624.75 H118 M113.00,604.00 H118 M113.00,583.25 H118 M109.50,562.50 H118 M113.00,541.75 H118 M113.00,521.00 H118 M113.00,500.25 H118 M109.50,479.50 H118 M113.00,458.75 H118 M113.00,438.00 H118 M113.00,417.25 H118 M109.50,396.50 H118 M113.00,375.75 H118 M113.00,355.00 H118 M109.50,956.80 H118 M113.00,915.33 H118 M109.50,873.86 H118 M113.00,832.39 H118 M109.50,790.92 H118 M113.00,749.45 H118 M109.50,707.98 H118" stroke="#000" stroke-width="3.0" fill="none"/>
<text transform="translate(106.3,343.6) scale(1,1.1)" font-size="29" text-anchor="end">0.0</text>
<text transform="translate(106.3,248.6) scale(1,1.1)" font-size="29" text-anchor="end">0.5</text>
<text transform="translate(106.3,153.6) scale(1,1.1)" font-size="29" text-anchor="end">1.0</text>
<text transform="translate(106.3,58.6) scale(1,1.1)" font-size="29" text-anchor="end">1.5</text>
<text transform="translate(106.3,406.1) scale(1,1.1)" font-size="29" text-anchor="end">28</text>
<text transform="translate(106.3,489.1) scale(1,1.1)" font-size="29" text-anchor="end">24</text>
<text transform="translate(106.3,572.1) scale(1,1.1)" font-size="29" text-anchor="end">20</text>
<text transform="translate(106.3,655.1) scale(1,1.1)" font-size="29" text-anchor="end">16</text>
<text transform="translate(106.3,966.4) scale(1,1.1)" font-size="29" text-anchor="end">0</text>
<text transform="translate(106.3,883.5) scale(1,1.1)" font-size="29" text-anchor="end">2</text>
<text transform="translate(106.3,800.5) scale(1,1.1)" font-size="29" text-anchor="end">4</text>
<text transform="translate(106.3,717.6) scale(1,1.1)" font-size="29" text-anchor="end">6</text>
<text transform="translate(130.5,1034.3) scale(1,1.1)" font-size="29" text-anchor="middle">0</text>
<text transform="translate(257.2,1034.3) scale(1,1.1)" font-size="29" text-anchor="middle">20</text>
<text transform="translate(383.9,1034.3) scale(1,1.1)" font-size="29" text-anchor="middle">40</text>
<text transform="translate(510.5,1034.3) scale(1,1.1)" font-size="29" text-anchor="middle">60</text>
<text transform="translate(637.2,1034.3) scale(1,1.1)" font-size="29" text-anchor="middle">80</text>
<text transform="translate(410.2,1087.2) scale(1,1.045)" font-size="35.6" text-anchor="middle">Pressure (GPa)</text>
<text transform="translate(38.6,160.5) rotate(-90) scale(1,1.06)" font-size="35.2" text-anchor="middle">Distortion Index (%)</text>
<text transform="translate(32.2,507.3) rotate(-90)" font-size="34.7" text-anchor="middle">Angle Variance (deg<tspan font-size="20" dy="-14.5">2</tspan><tspan dy="14.5">)</tspan></text>
<text transform="translate(38.4,841) rotate(-90) scale(1,1.05)" font-size="35.65" text-anchor="middle">SiO<tspan font-size="22" dy="11.8">6</tspan><tspan dy="-11.8"> Rotation (°)</tspan></text>
<text x="324.2" y="29.0" font-size="28.0" text-anchor="start" letter-spacing="0.54">Stishovite</text>
<text x="460.6" y="29.0" font-size="28.0" text-anchor="start" letter-spacing="0.45">Post-Stishovite</text>
<text x="697.5" y="29.2" font-size="31.0" text-anchor="end" >(a)</text>
<text x="697.5" y="363.2" font-size="31.0" text-anchor="end" >(b)</text>
<text x="696.5" y="693.2" font-size="31.0" text-anchor="end" >(c)</text>
<text x="261" y="190.3" font-size="37" font-style="italic">D</text>
<text x="255" y="381.5" font-size="40" font-style="italic">σ</text>
<line x1="276" y1="361.2" x2="291.6" y2="361.2" stroke="#000" stroke-width="2.2"/>
<text x="280" y="360.5" font-size="24">2</text>
<text transform="translate(258,942.5) scale(1.04,1.18)" font-size="37" font-style="italic">Φ</text>
</svg></body></html>
